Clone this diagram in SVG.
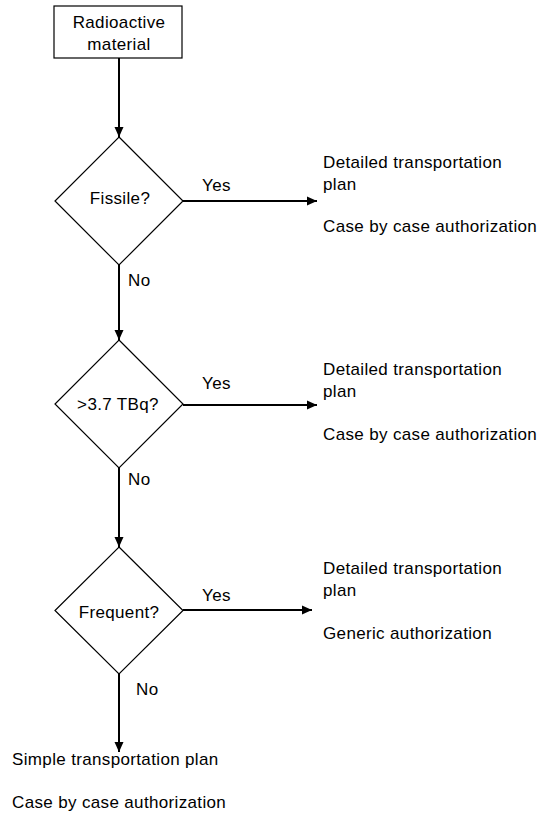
<svg xmlns="http://www.w3.org/2000/svg" width="538" height="815" viewBox="0 0 538 815">
<style>
text{font-family:"Liberation Sans",Arial,sans-serif;font-size:17px;letter-spacing:0.35px;fill:#000}
.c{text-anchor:middle}
.shape{fill:#fff;stroke:#000;stroke-width:1.2}
.edge{stroke:#000;stroke-width:2;fill:none}
</style>
<defs>
<marker id="ah" markerUnits="userSpaceOnUse" markerWidth="12" markerHeight="12" viewBox="0 0 12 12" refX="10" refY="6" orient="auto">
<path d="M0,1.5 L10,6 L0,10.5 Z" fill="#000"/>
</marker>
</defs>
<rect width="538" height="815" fill="#fff"/>
<g id="connectors">
<line class="edge" x1="119" y1="58" x2="119" y2="137" marker-end="url(#ah)"/>
<line class="edge" x1="119" y1="265" x2="119" y2="340" marker-end="url(#ah)"/>
<line class="edge" x1="119" y1="468" x2="119" y2="547" marker-end="url(#ah)"/>
<line class="edge" x1="119" y1="674" x2="119" y2="752" marker-end="url(#ah)"/>
<line class="edge" x1="183" y1="201" x2="317" y2="201" marker-end="url(#ah)"/>
<line class="edge" x1="183" y1="405" x2="317" y2="405" marker-end="url(#ah)"/>
<line class="edge" x1="183" y1="610" x2="312" y2="610" marker-end="url(#ah)"/>
<text x="202" y="191">Yes</text>
<text x="128" y="286">No</text>
<text x="202" y="389">Yes</text>
<text x="128" y="485">No</text>
<text x="202" y="601">Yes</text>
<text x="136" y="695">No</text>
</g>
<g id="start">
<rect class="shape" x="54" y="6" width="128" height="52"/>
<text class="c" x="119" y="28">Radioactive</text>
<text class="c" x="119" y="50">material</text>
</g>
<g id="fissile">
<polygon class="shape" points="119,137 183,201 119,265 55,201"/>
<text class="c" x="120" y="204">Fissile?</text>
</g>
<g id="activity">
<polygon class="shape" points="119,340 183,404 119,468 55,404"/>
<text class="c" x="118" y="410">&gt;3.7 TBq?</text>
</g>
<g id="frequent">
<polygon class="shape" points="119,547 183,610.5 119,674 55,610.5"/>
<text class="c" x="119" y="618">Frequent?</text>
</g>
<g id="result1">
<text x="323" y="168">Detailed transportation</text>
<text x="323" y="190">plan</text>
<text x="323" y="232">Case by case authorization</text>
</g>
<g id="result2">
<text x="323" y="375">Detailed transportation</text>
<text x="323" y="397">plan</text>
<text x="323" y="440">Case by case authorization</text>
</g>
<g id="result3">
<text x="323" y="574">Detailed transportation</text>
<text x="323" y="596">plan</text>
<text x="323" y="639">Generic authorization</text>
</g>
<g id="result4">
<text x="12" y="765">Simple transportation plan</text>
<text x="12" y="808">Case by case authorization</text>
</g>
</svg>
